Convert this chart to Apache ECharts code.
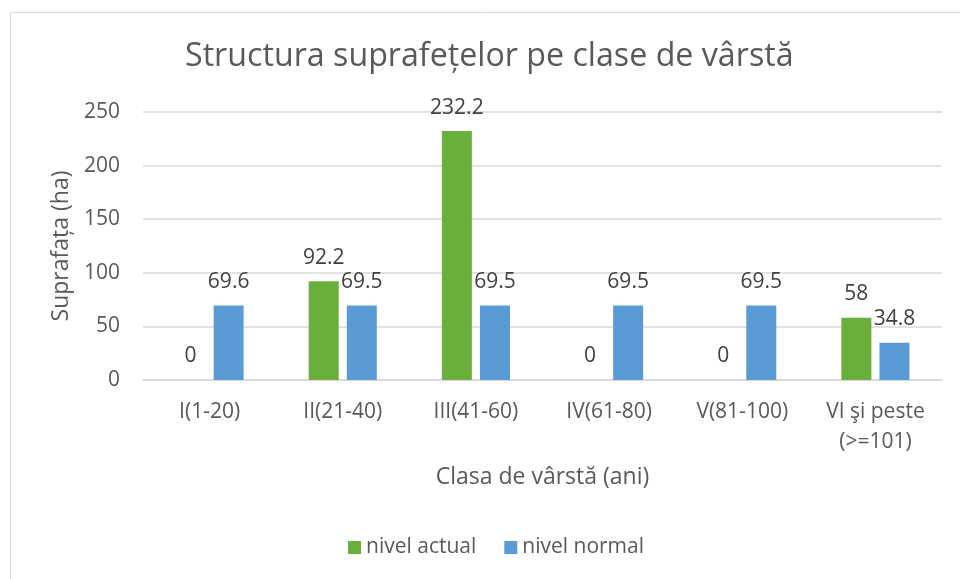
<!DOCTYPE html>
<html><head><meta charset="utf-8">
<script src="https://cdn.jsdelivr.net/npm/echarts@6/dist/echarts.min.js"></script>
<style>html,body{margin:0;padding:0;background:#fff}#c{width:960px;height:579px}</style>
</head><body><div id="c"></div>
<script>
const categories = ['I(1-20)', 'II(21-40)', 'III(41-60)', 'IV(61-80)', 'V(81-100)', 'VI şi peste\n(>=101)'];
const nivelActual = [0, 92.2, 232.2, 0, 0, 58];
const nivelNormal = [69.6, 69.5, 69.5, 69.5, 69.5, 34.8];
const seriesNames = ['nivel actual', 'nivel normal'];
const titleText = 'Structura suprafețelor pe clase de vârstă';
const yName = 'Suprafața (ha)';
const xName = 'Clasa de vârstă (ani)';

const FONT = 'Open Sans';
const chart = echarts.init(document.getElementById('c'), null, {renderer: 'canvas'});
const labelCfg = {show: true, position: 'top', distance: 13, fontSize: 21, color: '#404040', fontFamily: FONT};
chart.setOption({
  animation: false,
  backgroundColor: '#fff',
  graphic: [{type: 'rect', shape: {x: 10.5, y: 12.5, width: 980, height: 620}, style: {fill: 'none', stroke: '#d9d9d9', lineWidth: 1}, z: -1}],
  title: {text: titleText, left: 180, top: 36, textStyle: {fontFamily: FONT, fontSize: 32.2, fontWeight: 'normal', color: '#595959'}},
  legend: {data: seriesNames, bottom: 16, left: 343, itemWidth: 13, itemHeight: 13, itemGap: 28,
    icon: 'rect', textStyle: {fontFamily: FONT, fontSize: 21, color: '#595959'}},
  grid: {left: 143, right: 18, top: 112, bottom: 199, containLabel: false},
  xAxis: {type: 'category', data: categories, name: xName, nameLocation: 'middle', nameGap: 86,
    nameTextStyle: {fontFamily: FONT, fontSize: 23, color: '#595959'},
    axisLine: {lineStyle: {color: '#d9d9d9', width: 1.5}}, axisTick: {show: false},
    axisLabel: {margin: 17, fontFamily: FONT, fontSize: 21, color: '#595959', lineHeight: 30, interval: 0}},
  yAxis: {type: 'value', min: 0, max: 250, interval: 50, name: yName, nameLocation: 'middle', nameGap: 69,
    nameTextStyle: {fontFamily: FONT, fontSize: 23, color: '#595959'},
    axisLine: {show: false}, axisTick: {show: false},
    splitLine: {lineStyle: {color: '#d9d9d9', width: 1.5}},
    axisLabel: {margin: 23, fontFamily: FONT, fontSize: 21, color: '#595959'}},
  series: [
    {name: seriesNames[0], type: 'bar', data: nivelActual, barWidth: 30, barGap: '27%', itemStyle: {color: '#6aaf3b'}, label: labelCfg},
    {name: seriesNames[1], type: 'bar', data: nivelNormal, barWidth: 30, barGap: '27%', itemStyle: {color: '#5b9bd5'}, label: labelCfg}
  ]
});
</script></body></html>
